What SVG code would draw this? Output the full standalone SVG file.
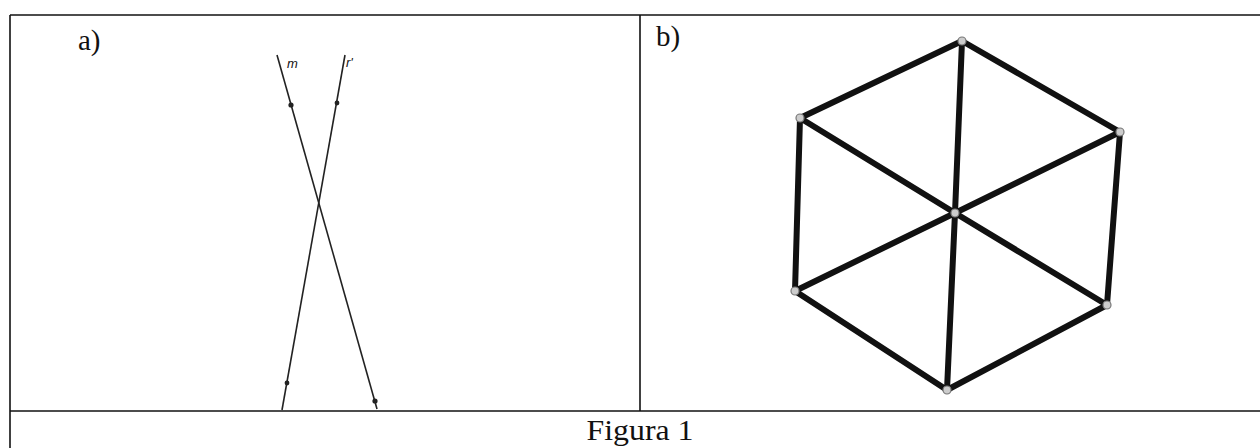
<svg xmlns="http://www.w3.org/2000/svg" width="1260" height="448" viewBox="0 0 1260 448">
<style>
.frame{stroke:#111;stroke-width:1.6;fill:none}
.lab{font-family:"Liberation Serif","Times New Roman",serif;fill:#111}
.thin{stroke:#222;stroke-width:1.6;fill:none}
.edge{stroke:#111;stroke-width:6;stroke-linecap:round;fill:none}
.vtx{fill:#ccc;stroke:#777;stroke-width:1.2}
.pt{fill:#222}
.small{font-family:"Liberation Sans","DejaVu Sans",sans-serif;font-style:italic;font-size:13px;fill:#111}
</style>
<rect width="1260" height="448" fill="#fff"/>
<g id="table">
<line class="frame" x1="10" y1="15" x2="1260" y2="15"/>
<line class="frame" x1="10" y1="15" x2="10" y2="448"/>
<line class="frame" x1="640" y1="15" x2="640" y2="411"/>
<line class="frame" x1="10" y1="411" x2="1260" y2="411"/>
</g>
<text class="lab" x="78" y="50" font-size="29">a)</text>
<text class="lab" x="656" y="46" font-size="29">b)</text>
<text class="lab" x="640" y="440" font-size="29" text-anchor="middle" textLength="107" lengthAdjust="spacingAndGlyphs">Figura 1</text>
<g id="figure-a">
<g id="connectors-a">
<line class="thin" x1="277" y1="55" x2="377" y2="409"/>
<line class="thin" x1="345" y1="55" x2="282" y2="410"/>
</g>
<g id="line-m">
<circle class="pt" cx="291" cy="105" r="2.6"/>
<circle class="pt" cx="375" cy="401" r="2.6"/>
<text class="small" x="287" y="68">m</text>
</g>
<g id="line-r">
<circle class="pt" cx="337" cy="103" r="2.4"/>
<circle class="pt" cx="287" cy="383" r="2.4"/>
<text class="small" x="346" y="67">r'</text>
</g>
</g>
<g id="figure-b">
<g id="connectors-b">
<line class="edge" x1="962" y1="41" x2="800" y2="118"/>
<line class="edge" x1="962" y1="41" x2="1120" y2="132"/>
<line class="edge" x1="800" y1="118" x2="795" y2="291"/>
<line class="edge" x1="1120" y1="132" x2="1107" y2="305"/>
<line class="edge" x1="795" y1="291" x2="947" y2="390"/>
<line class="edge" x1="1107" y1="305" x2="947" y2="390"/>
<line class="edge" x1="955" y1="213" x2="962" y2="41"/>
<line class="edge" x1="955" y1="213" x2="947" y2="390"/>
<line class="edge" x1="955" y1="213" x2="800" y2="118"/>
<line class="edge" x1="955" y1="213" x2="1120" y2="132"/>
<line class="edge" x1="955" y1="213" x2="795" y2="291"/>
<line class="edge" x1="955" y1="213" x2="1107" y2="305"/>
</g>
<g id="v-top"><circle class="vtx" cx="962" cy="41" r="4"/></g>
<g id="v-ul"><circle class="vtx" cx="800" cy="118" r="4"/></g>
<g id="v-ur"><circle class="vtx" cx="1120" cy="132" r="4"/></g>
<g id="v-center"><circle class="vtx" cx="955" cy="213" r="4"/></g>
<g id="v-ll"><circle class="vtx" cx="795" cy="291" r="4"/></g>
<g id="v-lr"><circle class="vtx" cx="1107" cy="305" r="4"/></g>
<g id="v-bottom"><circle class="vtx" cx="947" cy="390" r="4"/></g>
</g>
</svg>
